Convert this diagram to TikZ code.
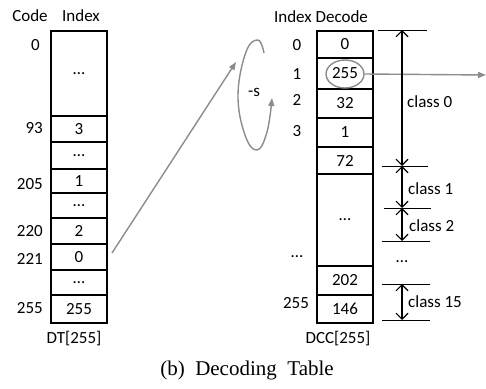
\documentclass[tikz,border=0pt]{standalone}
\usepackage{fontspec}
\setmainfont{Carlito}
\newfontfamily\capfont{Liberation Serif}
\usetikzlibrary{shapes.geometric,arrows.meta}
\begin{document}
\begin{tikzpicture}[x=1pt,y=-1pt,
  every node/.style={font=\fontsize{17}{18}\selectfont, inner sep=0pt},
  cell/.style={draw, line width=2pt, minimum width=56pt, anchor=north west},
  lbl/.style={anchor=east},
  gline/.style={draw=gray!90, line width=1.4pt},
  garrow/.style={gline, -{Triangle[length=8pt,width=6pt]}},
  dim/.style={line width=1.1pt, {Straight Barb[length=6pt,width=12pt]}-{Straight Barb[length=6pt,width=12pt]}},
  tick/.style={line width=1pt}]
\useasboundingbox (0,0) rectangle (486,388);
% headers
\node (hcode) at (30,16) {Code};
\node (hidx) at (81,16) {Index};
\node (hdec) at (321,17) {Index Decode};
% left table
\node[cell, minimum height=85pt] (L0) at (50,30) {…};
\node[cell, minimum height=26pt] (L93) at (50,115) {3};
\node[cell, minimum height=27pt] (Ld1) at (50,141) {…};
\node[cell, minimum height=24pt] (L205) at (50,168) {1};
\node[cell, minimum height=25pt] (Ld2) at (50,192) {…};
\node[cell, minimum height=26pt] (L220) at (50,217) {2};
\node[cell, minimum height=26pt] (L221) at (50,243) {0};
\node[cell, minimum height=25pt] (Ld3) at (50,269) {…};
\node[cell, minimum height=28pt] (L255) at (50,294) {255};
% left labels
\node[lbl] (c0) at (40,45) {0};
\node[lbl] (c93) at (43,128) {93};
\node[lbl] (c205) at (43,184) {205};
\node[lbl] (c220) at (43,231) {220};
\node[lbl] (c221) at (43,259) {221};
\node[lbl] (c255) at (43,308) {255};
\node (dt) at (74,339) {DT[255]};
% right table
\node[cell, minimum height=27pt] (R0) at (316,30) {0};
\node[cell, minimum height=31pt] (R1) at (316,57) {255};
\node[cell, minimum height=29pt] (R2) at (316,88) {32};
\node[cell, minimum height=29pt] (R3) at (316,117) {1};
\node[cell, minimum height=27pt] (R4) at (316,146) {72};
\node[cell, minimum height=92pt] (R5) at (316,173) {…};
\node[cell, minimum height=29pt] (R6) at (316,265) {202};
\node[cell, minimum height=28pt] (R7) at (316,294) {146};
% right labels
\node (i0) at (297,45) {0};
\node (i1) at (297,74) {1};
\node (i2) at (297,100) {2};
\node (i3) at (297,131) {3};
\node (idots) at (297,257) {…};
\node (i255) at (296,303) {255};
\node (dcc) at (338,339) {DCC[255]};
% circle and outgoing arrow
\node[ellipse, draw=gray!90, line width=1.4pt, minimum width=38pt, minimum height=28pt] (circ) at (345,74) {};
\coordinate (out) at (486,75);
\draw[garrow] (circ.east) -- (out);
% arrow from DT to DCC
\coordinate (dtout) at (112,253);
\coordinate (dcin) at (236,62);
\draw[garrow] (dtout) -- (dcin);
% loop -s
\draw[garrow] plot[smooth, tension=0.7] coordinates {(264,53) (258,40) (246,52) (238,95) (245,135) (257,150) (267,132) (272,98)};
\node (s) at (254,92) {-s};
% class ticks
\coordinate (k0) at (402,30);
\coordinate (k1) at (402,166);
\coordinate (k2) at (402,208);
\coordinate (k3) at (402,241);
\coordinate (k4) at (402,284);
\coordinate (k5) at (402,320);
\draw[tick] (378,30) -- (427,30);
\draw[tick] (382,166) -- (428,166);
\draw[tick] (384,208) -- (431,208);
\draw[tick] (382,241) -- (430,241);
\draw[tick] (382,284) -- (430,284);
\draw[tick] (382,320) -- (430,320);
\draw[dim] (k0) -- (k1);
\draw[dim] (k1) -- (k2);
\draw[dim] (k2) -- (k3);
\draw[dim] (k4) -- (k5);
\node[anchor=west] (cl0) at (407,102) {class 0};
\node[anchor=west] (cl1) at (408,189) {class 1};
\node[anchor=west] (cl2) at (409,226) {class 2};
\node (cld) at (402,262) {…};
\node[anchor=west] (cl15) at (408,302) {class 15};
% caption
\node (cap) at (247,370) {\capfont\fontsize{21}{23}\selectfont (b)~~Decoding~~Table};
\end{tikzpicture}
\end{document}
